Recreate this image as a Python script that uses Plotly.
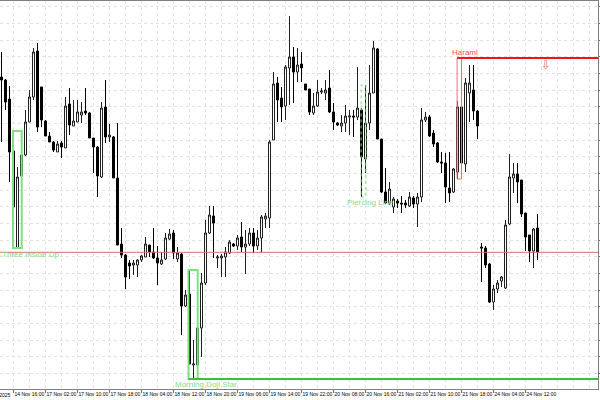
import plotly.graph_objects as go

# hourly candles, price index
open_ = [323, 320, 301, 249, 152, 224, 245, 278, 303, 349,
         313, 279, 264, 258, 248, 257, 252, 296, 274, 278,
         285, 289, 287, 262, 253, 223, 293, 263, 263, 222,
         156, 145, 137, 135, 135, 140, 143, 155, 148, 142,
         136, 141, 161, 167, 141, 146, 94, 106, 35, 35,
         72, 117, 167, 184, 142, 142, 143, 147, 156, 154,
         163, 153, 156, 167, 154, 162, 181, 182, 260, 317,
         302, 294, 332, 343, 328, 336, 316, 311, 287, 294,
         308, 307, 312, 288, 277, 274, 277, 283, 284, 283,
         290, 241, 277, 307, 351, 261, 208, 197, 193, 199,
         197, 197, 194, 202, 196, 203, 280, 283, 267, 257,
         238, 237, 212, 208, 228, 293, 236, 307, 310, 289,
         153, 152, 136, 98, 111, 119, 112, 176, 222, 226,
         220, 187, 165, 149, 172]
high = [348, 321, 314, 251, 233, 269, 290, 310, 352, 357,
        313, 280, 268, 259, 259, 259, 303, 312, 300, 300,
        298, 312, 288, 262, 254, 298, 320, 276, 264, 277,
        172, 146, 140, 140, 141, 145, 163, 155, 172, 154,
        148, 167, 171, 170, 153, 147, 110, 130, 60, 74,
        127, 180, 194, 194, 145, 146, 153, 160, 157, 165,
        178, 170, 172, 172, 170, 185, 187, 260, 328, 323,
        313, 335, 384, 353, 352, 348, 316, 311, 307, 320,
        312, 320, 330, 297, 278, 285, 295, 290, 290, 333,
        292, 315, 335, 359, 352, 261, 232, 218, 203, 201,
        204, 200, 208, 204, 207, 292, 288, 285, 270, 258,
        248, 247, 248, 232, 299, 342, 322, 335, 335, 290,
        157, 154, 137, 115, 120, 124, 180, 246, 237, 237,
        220, 187, 165, 172, 186]
low = [258, 290, 218, 152, 152, 223, 244, 278, 300, 268,
       273, 264, 258, 248, 248, 242, 252, 265, 274, 278,
       277, 285, 262, 227, 203, 222, 257, 258, 222, 155,
       142, 111, 121, 125, 123, 138, 143, 143, 141, 115,
       135, 140, 160, 141, 138, 65, 93, 36, 21, 34,
       43, 115, 166, 142, 132, 123, 123, 146, 153, 150,
       148, 126, 154, 147, 150, 147, 172, 172, 260, 278,
       278, 280, 295, 297, 318, 318, 310, 285, 285, 293,
       306, 300, 287, 270, 274, 268, 268, 265, 263, 280,
       203, 227, 270, 307, 261, 207, 196, 195, 187, 192,
       187, 192, 193, 192, 173, 198, 278, 263, 253, 237,
       227, 197, 198, 207, 221, 228, 228, 278, 280, 261,
       118, 132, 97, 90, 107, 113, 111, 175, 207, 197,
       183, 149, 138, 132, 140]
close = [320, 298, 248, 193, 223, 245, 278, 303, 348, 273,
         280, 264, 258, 250, 256, 253, 294, 275, 279, 288,
         288, 287, 262, 253, 224, 292, 263, 265, 222, 155,
         145, 123, 134, 137, 140, 144, 156, 148, 142, 137,
         140, 162, 166, 147, 147, 94, 105, 36, 36, 72,
         117, 167, 185, 177, 143, 144, 148, 158, 154, 162,
         153, 156, 167, 154, 162, 183, 184, 258, 316, 300,
         293, 333, 343, 328, 335, 332, 310, 288, 294, 308,
         309, 310, 288, 278, 275, 277, 284, 284, 283, 292,
         243, 277, 307, 352, 261, 208, 197, 211, 201, 197,
         196, 195, 203, 196, 203, 280, 283, 264, 256, 238,
         237, 213, 207, 231, 293, 237, 317, 317, 289, 274,
         152, 135, 98, 111, 117, 123, 175, 223, 226, 218,
         186, 163, 149, 171, 148]

tick_pos = [3, 11, 19, 27, 35, 43, 51, 59, 67, 75, 83, 91, 99, 107, 115, 123, 131]
tick_text = ["14 Nov 16:00", "17 Nov 02:00", "17 Nov 10:00", "17 Nov 18:00",
             "18 Nov 04:00", "18 Nov 12:00", "18 Nov 20:00", "19 Nov 06:00",
             "19 Nov 14:00", "19 Nov 22:00", "20 Nov 08:00", "20 Nov 16:00",
             "21 Nov 02:00", "21 Nov 10:00", "21 Nov 18:00", "24 Nov 04:00",
             "24 Nov 12:00"]
first_label = "14 Nov 2025"

level = 147.7

x = list(range(len(close)))
XMIN, XMAX = -0.375, 149.125
GRID = "#e2e2e2"
FONT = "Liberation Sans, Arial"

fig = go.Figure(go.Candlestick(
    x=x, open=open_, high=high, low=low, close=close,
    increasing=dict(line=dict(color="#202020", width=1), fillcolor="white"),
    decreasing=dict(line=dict(color="black", width=1), fillcolor="black"),
    whiskerwidth=0, hoverinfo="skip",
))


def span(i0, i1):
    return min(low[i0:i1 + 1]), max(high[i0:i1 + 1])


# support level
fig.add_shape(type="line", xref="paper", x0=0, x1=1, y0=level, y1=level,
              line=dict(color="#e36a6a", width=1))

light_green = "#7fe07f"
# Three Inside Up
lo, hi = span(3, 5)
fig.add_shape(type="rect", x0=3 - 0.12, x1=5 + 0.05, y0=lo, y1=hi,
              line=dict(color=light_green, width=2))
# Morning Doji Star
lo, hi = span(47, 49)
fig.add_shape(type="rect", x0=47 - 0.25, x1=49 + 0.05, y0=lo, y1=hi,
              line=dict(color=light_green, width=2))
fig.add_shape(type="line", x0=47 - 0.25, x1=XMAX, y0=lo, y1=lo,
              line=dict(color="#3cbf3c", width=2))
# Piercing Line
lo, hi = span(90, 91)
fig.add_shape(type="rect", x0=90 - 0.1, x1=91.1, y0=lo, y1=hi,
              line=dict(color=light_green, width=1, dash="dot"))
# Harami
lo, hi = span(114, 115)
fig.add_shape(type="rect", x0=114 - 0.1, x1=115, y0=lo, y1=hi,
              line=dict(color="#f07070", width=1))
fig.add_shape(type="line", x0=114 - 0.1, x1=XMAX, y0=hi, y1=hi,
              line=dict(color="#ff1010", width=2))

labels = [("Three Inside Up", -0.2, 151, "top", light_green),
          ("Morning Doji Star", 43.1, 21, "top", light_green),
          ("Piercing Line", 86.1, 203, "top", light_green),
          ("Harami", 112.3, 342, "bottom", "#ff4d4d")]
for text, lx, ly, ya, col in labels:
    fig.add_annotation(x=lx, y=ly, text=text, showarrow=False, xanchor="left",
                       yanchor=ya, borderpad=0,
                       font=dict(family=FONT, size=8, color=col))

fig.add_annotation(x=136, y=335, text="⇩", showarrow=False,
                   font=dict(family="DejaVu Sans", size=12, color="#ff6a6a"))
fig.add_annotation(xref="paper", yref="paper", x=-19 / 598, y=-0.006, text=first_label,
                   showarrow=False, xanchor="left", yanchor="top", borderpad=0,
                   font=dict(family=FONT, size=5, color="black"))

fig.update_layout(
    width=600, height=400,
    margin=dict(l=0, r=2, t=1, b=11, autoexpand=False),
    paper_bgcolor="white", plot_bgcolor="white",
    showlegend=False, boxgap=0.5, boxgroupgap=0,
    xaxis=dict(
        range=[XMIN, XMAX], rangeslider=dict(visible=False), automargin=False,
        tickvals=tick_pos, ticktext=tick_text, ticklabelposition="outside right",
        tickangle=0,
        ticks="outside", ticklen=3, tickcolor="#707070",
        tickfont=dict(family=FONT, size=5, color="black"),
        showgrid=True, gridcolor=GRID, griddash="dot",
        minor=dict(tick0=3, dtick=4, showgrid=True, gridcolor=GRID, griddash="dot"),
        showline=True, linecolor="#808080", mirror=True, zeroline=False,
    ),
    yaxis=dict(
        range=[11, 399], side="right", automargin=False,
        tick0=26.667, dtick=16.6667, showticklabels=False,
        ticks="outside", ticklen=2, tickcolor="#707070",
        showgrid=True, gridcolor=GRID, griddash="dot",
        showline=True, linecolor="#808080", mirror=True, zeroline=False,
    ),
)

fig.write_html("out.html", config={"displayModeBar": False},
               post_script="document.body.style.margin='0';")
